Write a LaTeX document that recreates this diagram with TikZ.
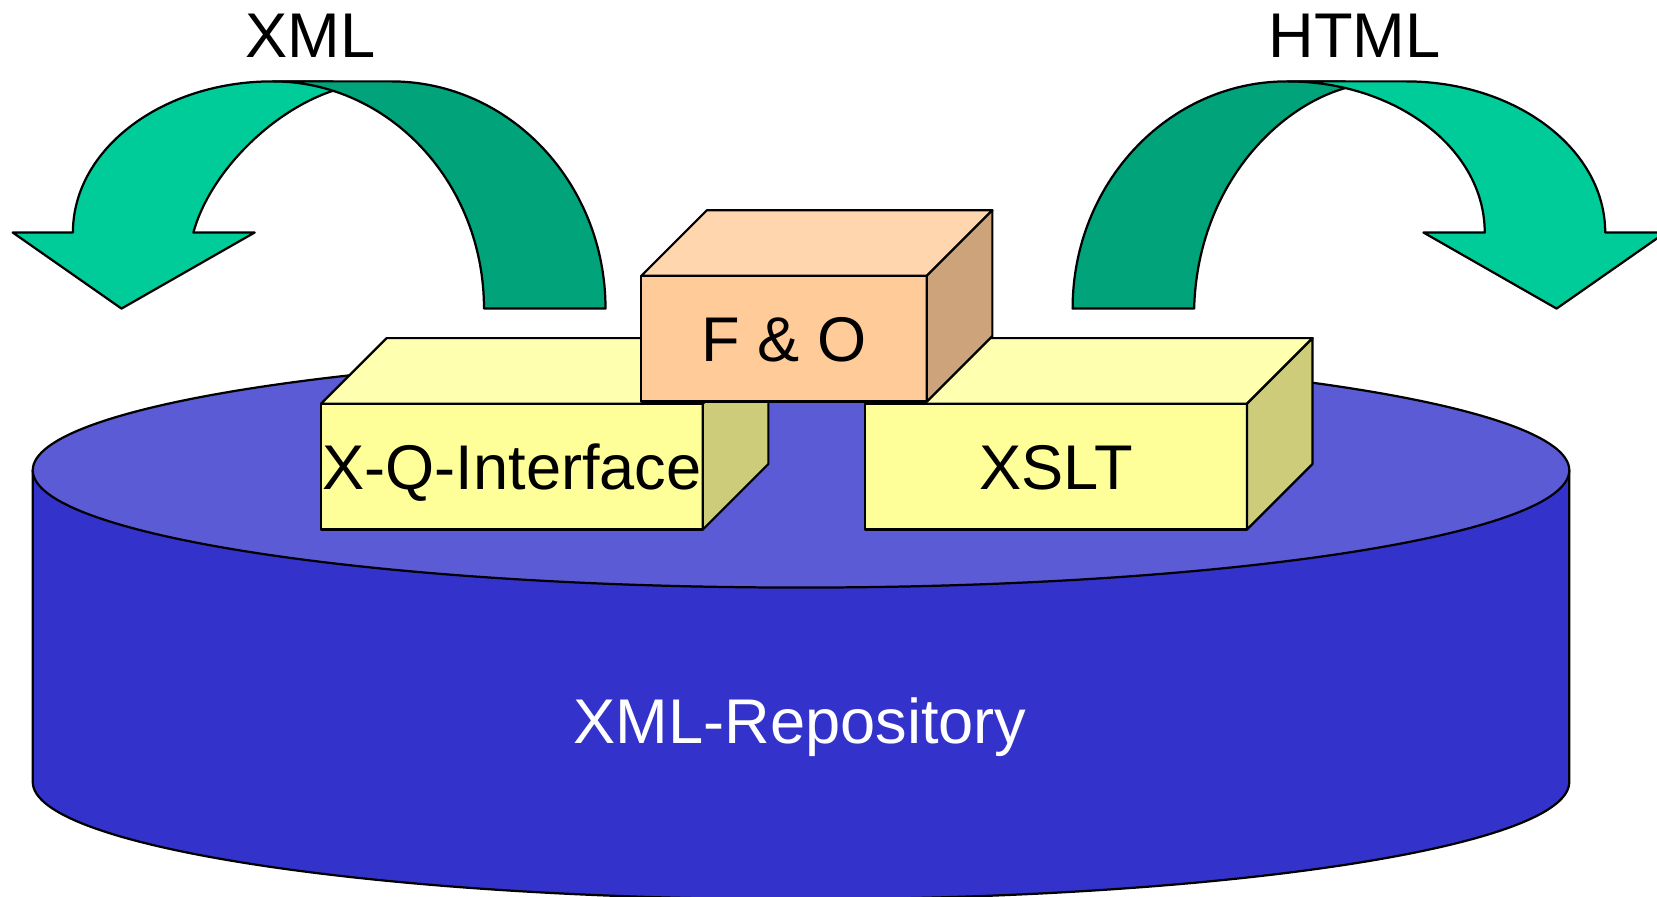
\documentclass[tikz,border=0pt]{standalone}
\usepackage{fontspec}
\setmainfont{Liberation Sans}
\definecolor{arrowlight}{HTML}{00CC99}
\definecolor{arrowdark}{HTML}{00A37A}
\definecolor{repobody}{HTML}{3333CC}
\definecolor{repotop}{HTML}{5B5BD6}
\definecolor{yfront}{HTML}{FFFF99}
\definecolor{ytop}{HTML}{FFFFB0}
\definecolor{yside}{HTML}{CCCC7A}
\definecolor{pfront}{HTML}{FFCC99}
\definecolor{ptop}{HTML}{FFD6AD}
\definecolor{pside}{HTML}{CCA37A}
\newcommand\labelfont{\fontsize{17}{20}\selectfont}
% top and side faces of a box whose front face is node #1
\newcommand\cubefaces[3]{%
  \filldraw[face, fill=#2] (#1.north west) -- ([shift={(62,62)}]#1.north west)
    -- ([shift={(62,62)}]#1.north east) -- (#1.north east) -- cycle;
  \filldraw[face, fill=#3] (#1.north east) -- ([shift={(62,62)}]#1.north east)
    -- ([shift={(62,62)}]#1.south east) -- (#1.south east) -- cycle;
}
\tikzset{
  face/.style={draw=black, line width=0.6pt, line join=round},
  frontface/.style={face, rectangle, inner sep=0pt, outer sep=0pt,
    minimum height=1.19cm, minimum width=#1, font=\labelfont,
    text height=12.2pt, text depth=0pt},
  caption/.style={font=\labelfont, inner sep=0pt, text height=12.2pt, text depth=0pt},
}
\begin{document}
\begin{tikzpicture}[x=0.01cm, y=0.01cm, line width=0.6pt, line join=round]
\useasboundingbox (0,0) rectangle (1568,-848);
\clip (0,0) rectangle (1568,-848);

% repository cylinder
\filldraw[face, fill=repobody] (31,-445) -- (31,-740)
  arc[start angle=180, end angle=360, x radius=727, y radius=111]
  -- (1485,-445) -- cycle;
\filldraw[face, fill=repotop] (758,-445) ellipse[x radius=727, y radius=111];
\node[caption, text=white] (repo) at (757,-682) {XML-Repository};

% left curved arrow: back band (light, with head), front band (dark)
\filldraw[face, fill=arrowlight] (12,-220) -- (69,-220)
  arc[start angle=180, end angle=90, x radius=189, y radius=143]
  -- (315,-77) -- (315,-85.9)
  .. controls (255,-106) and (198,-165) .. (183,-220)
  -- (241,-220) -- (115,-292) -- cycle;
\filldraw[face, fill=arrowdark] (458,-292)
  arc[start angle=0, end angle=90, x radius=200, y radius=215]
  -- (370,-77)
  arc[start angle=90, end angle=0, x radius=203, y radius=215]
  -- cycle;

% right curved arrow: back band (dark), front band (light, with head)
\filldraw[face, fill=arrowdark] (1015,-292)
  arc[start angle=180, end angle=90, x radius=203, y radius=215]
  -- (1273,-77) -- (1273,-83.3)
  .. controls (1205,-103) and (1133,-180) .. (1130,-292) -- cycle;
\filldraw[face, fill=arrowlight] (1218,-77) -- (1330,-77)
  arc[start angle=90, end angle=0, x radius=189, y radius=143]
  -- (1576,-220) -- (1473,-292) -- (1347,-220) -- (1405,-220)
  arc[start angle=0, end angle=90, x radius=187, y radius=143]
  -- cycle;

\node[caption] (xml) at (294,-32.5) {XML};
\node[caption] (html) at (1282,-32.5) {HTML};

% component boxes
\node[frontface=3.61cm, fill=yfront] (xq) at (484.5,-441.5) {X-Q-Interface};
\cubefaces{xq}{ytop}{yside}
\node[frontface=3.61cm, fill=yfront] (xslt) at (999.5,-441.5) {XSLT};
\cubefaces{xslt}{ytop}{yside}
\node[frontface=2.70cm, fill=pfront] (fo) at (742,-320.5) {F \& O};
\cubefaces{fo}{ptop}{pside}
\end{tikzpicture}
\end{document}
